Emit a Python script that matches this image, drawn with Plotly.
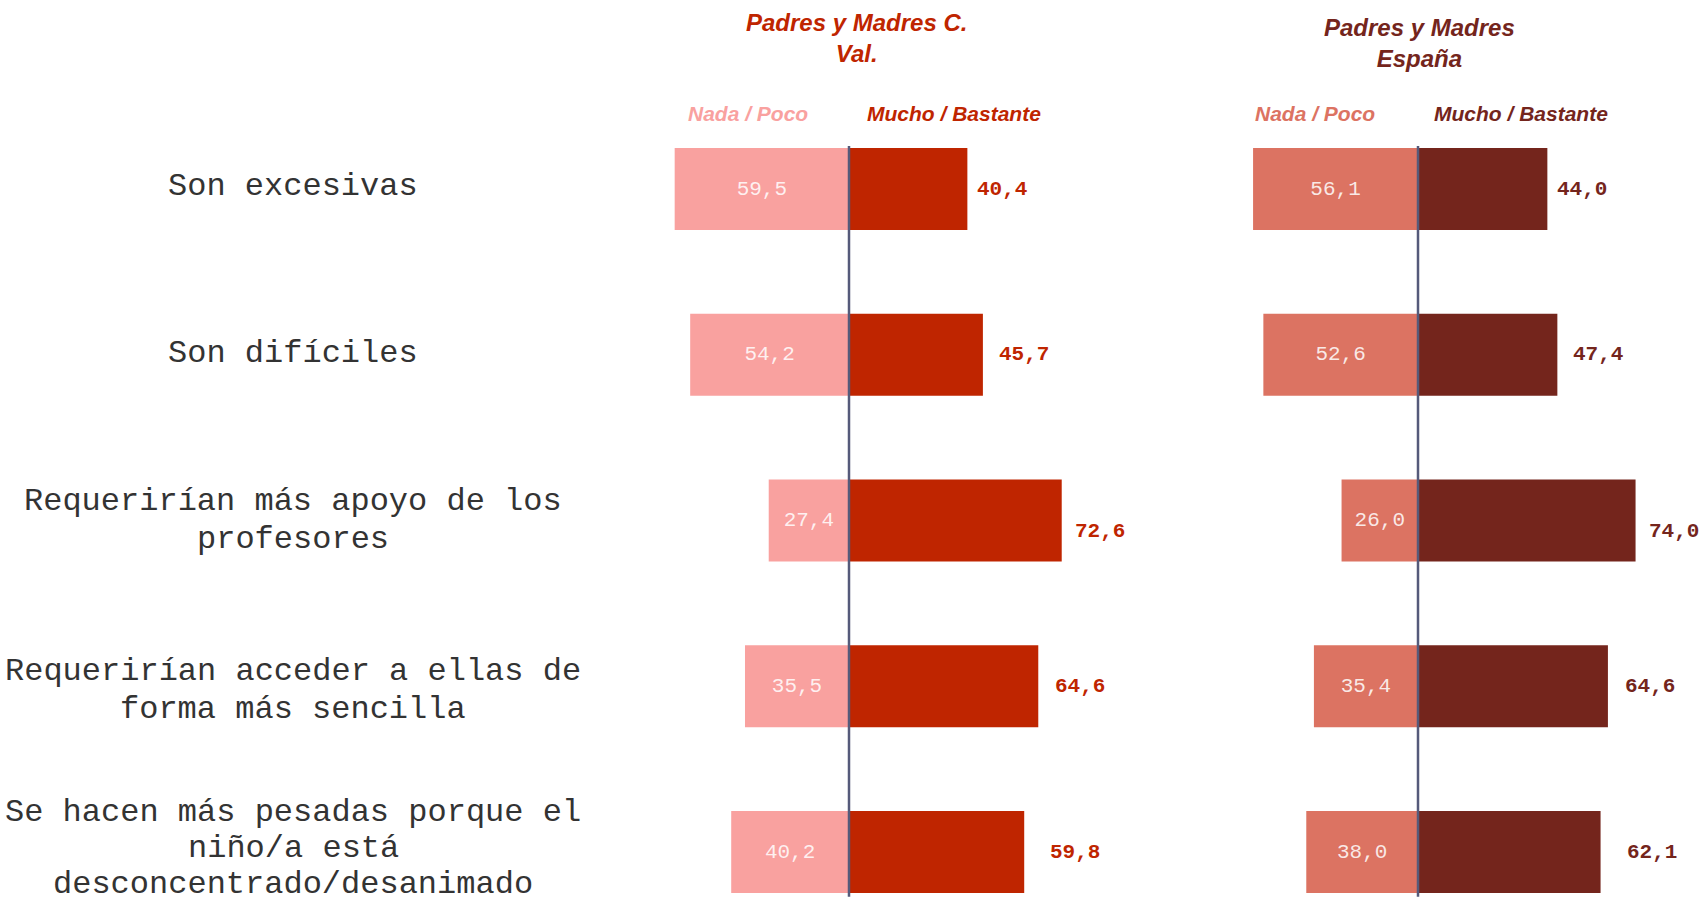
import plotly.graph_objects as go

categories = [
    ["Son excesivas"],
    ["Son difíciles"],
    ["Requerirían más apoyo de los", "profesores"],
    ["Requerirían acceder a ellas de", "forma más sencilla"],
    ["Se hacen más pesadas porque el", "niño/a está", "desconcentrado/desanimado"],
]
val_nada = [59.5, 54.2, 27.4, 35.5, 40.2]
val_mucho = [40.4, 45.7, 72.6, 64.6, 59.8]
esp_nada = [56.1, 52.6, 26.0, 35.4, 38.0]
esp_mucho = [44.0, 47.4, 74.0, 64.6, 62.1]

titles = ["Padres y Madres C.<br>Val.", "Padres y Madres<br>España"]
sub_nada = "Nada / Poco"
sub_mucho = "Mucho / Bastante"

C_VAL_N = "#F9A19F"
C_VAL_M = "#BF2500"
C_ESP_N = "#DC7362"
C_ESP_M = "#74251C"
C_ZERO = "#555A7A"

# label placement tweaks (pixels)
label_gap = [8, 14, 11, 15, 24]
label_dy = [0, 0, -11, 0, 0]
cat_dy = [3, 1, 0, -4, 4]
cat_ls = [38, 38, 38, 38, 36]

def fmt(v):
    return f"{v:.1f}".replace(".", ",")

idx = list(range(len(categories)))
W, H = 1700, 908
MONO = "Liberation Mono, Courier New, monospace"

fig = go.Figure()

panels = [
    ("x", "y", val_nada, val_mucho, C_VAL_N, C_VAL_M),
    ("x2", "y2", esp_nada, esp_mucho, C_ESP_N, C_ESP_M),
]
for xa, ya, nada, mucho, cn, cm in panels:
    fig.add_trace(go.Bar(
        y=idx, x=[-v for v in nada], orientation="h", xaxis=xa, yaxis=ya,
        marker=dict(color=cn, line=dict(width=0)), width=0.495,
        text=[fmt(v) for v in nada], textposition="inside",
        insidetextanchor="middle", textangle=0,
        textfont=dict(family=MONO, size=21, color="rgba(255,255,255,0.85)"),
        hoverinfo="skip", showlegend=False,
    ))
    fig.add_trace(go.Bar(
        y=idx, x=mucho, orientation="h", xaxis=xa, yaxis=ya,
        marker=dict(color=cm, line=dict(width=0)), width=0.495,
        hoverinfo="skip", showlegend=False,
    ))
    for i, v in zip(idx, mucho):
        fig.add_annotation(
            x=v, y=i, xref=xa, yref=ya, text=f"<b>{fmt(v)}</b>", showarrow=False,
            xanchor="left", yanchor="middle", xshift=label_gap[i], yshift=label_dy[i],
            font=dict(family=MONO, size=21, color=cm),
        )
    fig.add_shape(type="line", xref=xa, yref=ya, x0=0, x1=0, y0=-0.26, y1=4.27,
                  line=dict(color=C_ZERO, width=2.5))

# category labels (one annotation per line for tight line spacing)
for i, lines in zip(idx, categories):
    n = len(lines)
    for k, line in enumerate(lines):
        off = ((n - 1) / 2 - k) * cat_ls[i] + cat_dy[i]
        fig.add_annotation(
            x=293 / W, y=i, xref="paper", yref="y", text=line, showarrow=False,
            xanchor="center", yanchor="middle", yshift=off,
            font=dict(family=MONO, size=32, color="#333333"),
        )

hdr_font = "Liberation Sans, Arial, sans-serif"
fig.add_annotation(x=856 / W, y=1 - 38 / H, xref="paper", yref="paper",
                   text=f"<b><i>{titles[0]}</i></b>", showarrow=False, align="center",
                   xanchor="center", yanchor="middle",
                   font=dict(family=hdr_font, size=24, color=C_VAL_M))
fig.add_annotation(x=1419 / W, y=1 - 43 / H, xref="paper", yref="paper",
                   text=f"<b><i>{titles[1]}</i></b>", showarrow=False, align="center",
                   xanchor="center", yanchor="middle",
                   font=dict(family=hdr_font, size=24, color=C_ESP_M))
for xc, txt, col in [(748, sub_nada, C_VAL_N), (954, sub_mucho, C_VAL_M),
                     (1315, sub_nada, C_ESP_N), (1521, sub_mucho, C_ESP_M)]:
    fig.add_annotation(x=xc / W, y=1 - 114 / H, xref="paper", yref="paper",
                       text=f"<b><i>{txt}</i></b>", showarrow=False,
                       xanchor="center", yanchor="middle",
                       font=dict(family=hdr_font, size=21, color=col))

yrange = [(H - 189) / 165.75, -189 / 165.75]
ax_common = dict(showgrid=False, zeroline=False, showticklabels=False, ticks="", showline=False)
fig.update_layout(
    width=W, height=H, margin=dict(l=0, r=0, t=0, b=0),
    paper_bgcolor="white", plot_bgcolor="white", barmode="overlay",
    xaxis=dict(domain=[673.2 / W, 1083.4 / W], range=[-60, 80], **ax_common),
    xaxis2=dict(domain=[1241.6 / W, 1653.2 / W], range=[-60, 80], **ax_common),
    yaxis=dict(domain=[0, 1], range=yrange, anchor="x", **ax_common),
    yaxis2=dict(domain=[0, 1], range=yrange, anchor="x2", **ax_common),
)

fig.write_html("out.html", config={"displayModeBar": False},
               post_script="document.body.style.margin='0';document.body.style.overflow='hidden';")
